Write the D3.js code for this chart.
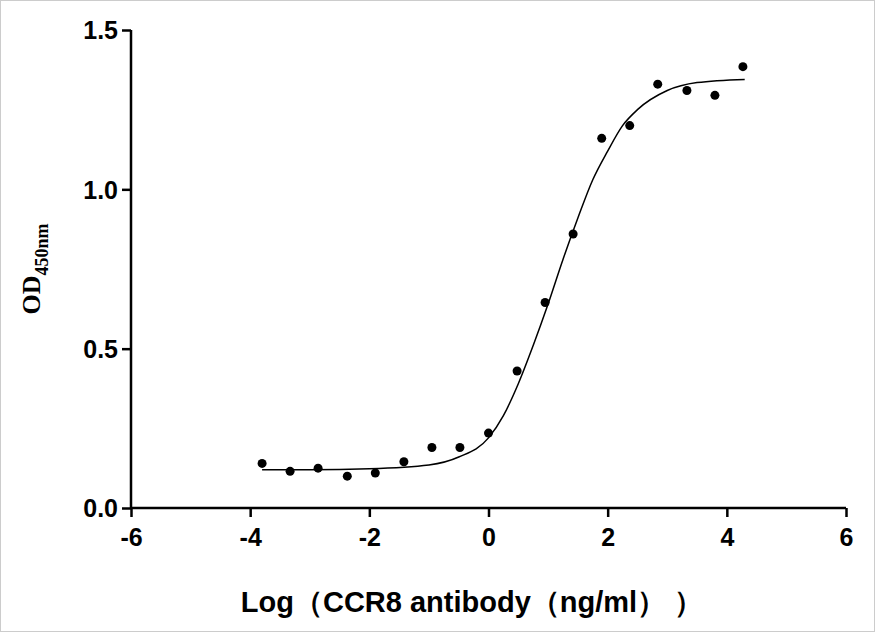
<!DOCTYPE html><html><head><meta charset="utf-8">
<script src="https://cdn.jsdelivr.net/npm/d3@7"></script>
<style>body{margin:0;background:#fff}svg{display:block}</style></head><body>
<script>
const pointX=[-3.80,-3.33,-2.86,-2.37,-1.90,-1.42,-0.95,-0.48,0.0,0.48,0.95,1.42,1.90,2.37,2.84,3.33,3.80,4.27];
const pointY=[0.140,0.115,0.125,0.100,0.110,0.145,0.190,0.190,0.235,0.430,0.645,0.860,1.160,1.200,1.330,1.310,1.295,1.385];
const curveX=[-3.8,-3,-2,-1,-0.5,0,0.25,0.5,0.75,1,1.25,1.5,1.75,2,2.25,2.5,3,3.5,4.3];
const curveY=[0.12,0.12,0.123,0.135,0.16,0.22,0.29,0.39,0.51,0.64,0.78,0.91,1.03,1.12,1.20,1.25,1.31,1.335,1.345];
const xTicks=[-6,-4,-2,0,2,4,6];
const yTicks=[0.0,0.5,1.0,1.5];
const W=875,H=632;
const svg=d3.select("body").append("svg").attr("width",W).attr("height",H);
svg.append("rect").attr("x",0.5).attr("y",0.5).attr("width",W-1).attr("height",H-1).attr("fill","none").attr("stroke","#ccc");
const x=d3.scaleLinear().domain([-6,6]).range([131,846]);
const y=d3.scaleLinear().domain([0,1.5]).range([508,30]);
const font="Arial, 'Liberation Sans', sans-serif";
const gx=svg.append("g").attr("transform","translate(0,508)").call(d3.axisBottom(x).tickValues(xTicks).tickSize(9).tickFormat(d=>String(d)));
const gy=svg.append("g").attr("transform","translate(131,0)").call(d3.axisLeft(y).tickValues(yTicks).tickSize(9).tickFormat(d3.format(".1f")));
[gx,gy].forEach(g=>{g.attr("font-size",null).attr("font-family",null);
 g.selectAll("path,line").attr("stroke","#000").attr("stroke-width",2.5);
 g.selectAll("text").style("font-family",font).style("font-weight","bold").style("font-size","25px").attr("fill","#000");});
gx.selectAll("text").attr("dy","1.05em");
gy.selectAll("text").attr("dy","0.35em").attr("x",-13);
gy.select(".domain").attr("d","M0,30V508");
gx.select(".domain").attr("d","M131,0H846");
const line=d3.line().x((d,i)=>x(curveX[i])).y((d,i)=>y(curveY[i])).curve(d3.curveMonotoneX);
svg.append("path").attr("d",line(curveX)).attr("fill","none").attr("stroke","#000").attr("stroke-width",1.5);
svg.selectAll("circle").data(pointX).enter().append("circle").attr("cx",d=>x(d)).attr("cy",(d,i)=>y(pointY[i])).attr("r",4.5).attr("fill","#000");
svg.append("text").attr("x",472).attr("y",612).attr("text-anchor","middle").style("font-family",font).style("font-weight","bold").style("font-size","29px").text("Log（CCR8 antibody（ng/ml）  ）");
const yl=svg.append("text").attr("transform","translate(40,269) rotate(-90)").attr("text-anchor","middle").style("font-family","'Liberation Serif','DejaVu Serif',serif").style("font-weight","bold").style("font-size","26px");
yl.append("tspan").text("OD");
yl.append("tspan").style("font-size","18px").attr("dy",8).text("450nm");
</script></body></html>
